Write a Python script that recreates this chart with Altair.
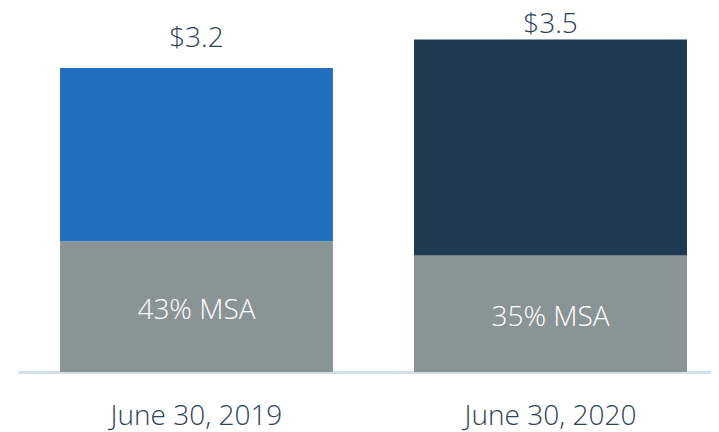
import altair as alt
import pandas as pd

categories = ["June 30, 2019", "June 30, 2020"]
totals = [3.2, 3.5]
msa_pct = [43, 35]
total_labels = ["$3.2", "$3.5"]
top_colors = ["#2170BF", "#203A52"]
msa_color = "#899494"
text_color = "#2E4257"
FONT = "Open Sans"
FS = 28

rows = []
for c, t, p in zip(categories, totals, msa_pct):
    m = t * p / 100.0
    rows.append({"cat": c, "part": "MSA", "y0": 0.0, "y1": m})
    rows.append({"cat": c, "part": c, "y0": m, "y1": t})
bars_df = pd.DataFrame(rows)

lab_df = pd.DataFrame({
    "cat": categories,
    "total": totals,
    "tlabel": total_labels,
    "mid": [t * p / 200.0 for t, p in zip(totals, msa_pct)],
    "mlabel": [f"{p}% MSA" for p in msa_pct],
})

xscale = alt.Scale(paddingInner=0.229, paddingOuter=0.0932, align=0.636)
x = alt.X("cat:N", sort=categories, title=None, scale=xscale,
          axis=alt.Axis(labelAngle=0, labelFont=FONT, labelFontSize=FS,
                        labelFontWeight=300, labelColor=text_color,
                        labelBaseline="alphabetic",
                        labelPadding=52, ticks=False, domainColor="#D0E1EC",
                        domainWidth=3, grid=False))
yscale = alt.Scale(domain=[0, 3.684], nice=False, zero=True)

bars = alt.Chart(bars_df).mark_bar().encode(
    x=x,
    y=alt.Y("y0:Q", scale=yscale, axis=None),
    y2="y1:Q",
    color=alt.Color("part:N", legend=None,
                    scale=alt.Scale(domain=["MSA"] + categories,
                                    range=[msa_color] + top_colors)),
)

def total_text(cat, dy):
    return alt.Chart(lab_df).transform_filter(
        alt.datum.cat == cat
    ).mark_text(font=FONT, fontSize=FS, fontWeight=300, color=text_color,
                baseline="alphabetic", dy=dy).encode(
        x=alt.X("cat:N", sort=categories, scale=xscale),
        y=alt.Y("total:Q", scale=yscale),
        text="tlabel:N",
    )

t1 = total_text(categories[0], -21)
t2 = total_text(categories[1], -6)

msa_text = alt.Chart(lab_df).mark_text(
    font=FONT, fontSize=FS, fontWeight=300, color="white",
    baseline="alphabetic", dy=12
).encode(
    x=alt.X("cat:N", sort=categories, scale=xscale),
    y=alt.Y("mid:Q", scale=yscale),
    text="mlabel:N",
)

chart = alt.layer(bars, t1, t2, msa_text).properties(
    width=693, height=350,
    padding={"left": 10, "top": 14, "right": 0, "bottom": 60},
    autosize=alt.AutoSizeParams(type="none"),
).configure(background="white", view=alt.ViewConfig(stroke=None))

chart.save("out.html", embed_options={"renderer": "svg", "actions": False})
